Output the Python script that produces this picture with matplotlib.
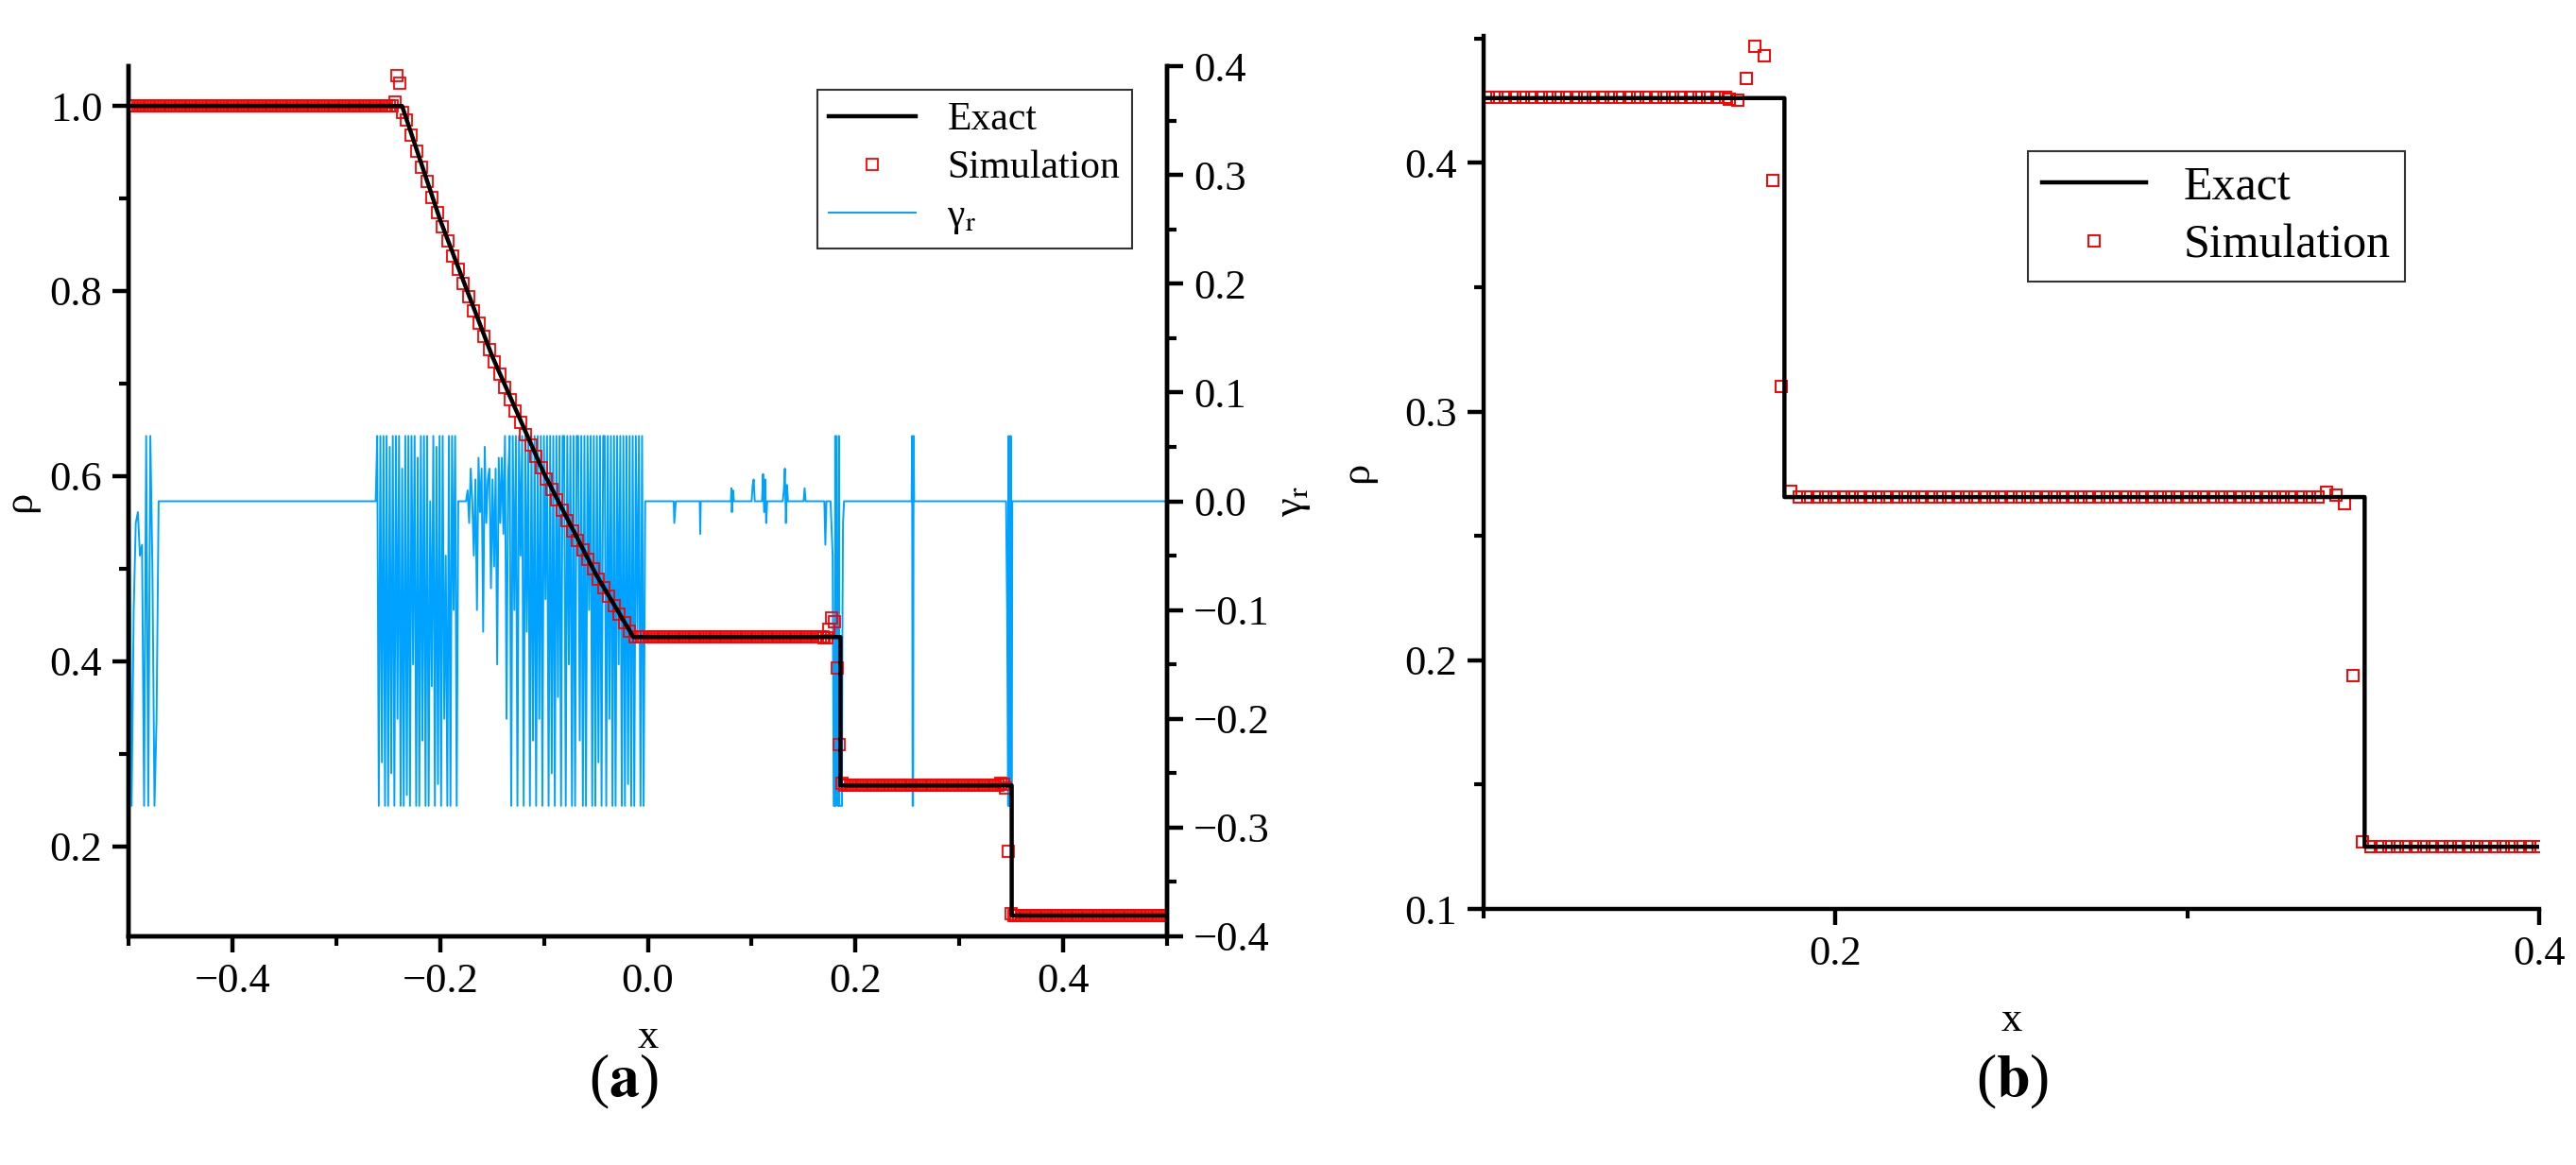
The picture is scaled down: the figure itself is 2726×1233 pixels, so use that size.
import numpy as np
import matplotlib
matplotlib.use("Agg")
import matplotlib.pyplot as plt
from matplotlib.ticker import AutoMinorLocator

plt.rcParams['font.family'] = ['Liberation Serif', 'DejaVu Serif']
plt.rcParams['mathtext.fontset'] = 'stix'

# ---------------- data ----------------
# exact Sod solution (key points)
exact_x = [-0.5, -0.2366, -0.2, -0.15, -0.1, -0.05, -0.0139, 0.1855, 0.1855, 0.3504, 0.3504, 0.5]
exact_rho = [1.0, 1.0, 0.877, 0.730, 0.603, 0.494, 0.426, 0.426, 0.2656, 0.2656, 0.125, 0.125]

# simulation
plat1_rho = 1.0
head_x = [-0.2438, -0.2413, -0.2388, -0.2363]
head_rho = [1.004, 1.033, 1.025, 0.993]
rare_rho = [0.985, 0.968, 0.951, 0.934, 0.918, 0.901, 0.885, 0.8695, 0.854, 0.838,
            0.823, 0.808, 0.794, 0.779, 0.765, 0.751, 0.737, 0.723, 0.710, 0.696,
            0.683, 0.670, 0.658, 0.645, 0.633, 0.621, 0.609, 0.597, 0.586, 0.574,
            0.563, 0.552, 0.541, 0.530, 0.520, 0.510, 0.4995, 0.489, 0.4795, 0.470,
            0.460, 0.451, 0.442, 0.4326, 0.426]
plat2_rho = 0.4262
contact_x = [0.1697, 0.1722, 0.1747, 0.1772, 0.1797, 0.1822, 0.1847, 0.1872]
contact_rho = [0.4255, 0.4250, 0.434, 0.447, 0.443, 0.393, 0.310, 0.268]
plat3_rho = 0.2656
shock_x = [0.3397, 0.3422, 0.3447, 0.3472, 0.3497]
shock_rho = [0.2675, 0.2665, 0.2630, 0.194, 0.127]
plat4_rho = 0.125

# gamma_r indicator
gA_x0, gA_dx = -0.499, 0.002
gA = [0.0, -0.28, -0.1, -0.02, -0.01, -0.05, -0.04, -0.28, 0.06, -0.28, 0.06, -0.06,
      -0.28, -0.2, 0.0, 0.0]
gB_x0, gB_dx = -0.262, 0.0015
gB = [0.0, 0.06, -0.28, 0.06, -0.24, 0.06, -0.28, 0.06, -0.28, 0.05, -0.25, 0.06, -0.28,
      0.06, -0.2, 0.06, -0.28, 0.03, -0.28, 0.06, -0.27, 0.06, -0.28, 0.06, -0.15, 0.06,
      -0.28, 0.04, -0.28, 0.06, -0.22, 0.06, -0.28, 0.06, -0.28, 0.0, -0.17, 0.06, -0.28,
      0.05, -0.26, 0.06, -0.28, 0.06, -0.2, -0.05, -0.28, 0.06, -0.28, 0.06, -0.1, 0.06,
      -0.28, 0.0, 0.0]
gC_x0, gC_dx = -0.175, 0.0015
gC = [0.0, 0.01, -0.02, 0.03, 0.0, -0.05, 0.02, -0.1, 0.04, -0.01, 0.03, -0.12, 0.05,
      -0.02, 0.02, 0.03, -0.08, 0.02, -0.06, 0.03, -0.15, 0.04, -0.02, 0.04, -0.03, 0.06,
      -0.2, 0.02, 0.06, -0.28, 0.06, -0.1, 0.06, -0.28, 0.06, -0.05, 0.06, -0.28, 0.06,
      -0.12, 0.06, -0.28, 0.06, -0.22, 0.06, -0.28, 0.06, -0.2, 0.06, -0.28, 0.06, -0.09,
      0.06, -0.28, 0.06, -0.25, 0.06, -0.28, 0.06, -0.18, 0.06, -0.28, 0.06, 0.06, -0.28,
      0.06, -0.15, 0.06, -0.28, 0.06, -0.28, 0.06, 0.06, -0.22, 0.06, -0.28, 0.06, -0.28,
      0.06, -0.1, 0.06, -0.28, 0.06, -0.28, 0.06, -0.24, 0.06, -0.28, 0.06, 0.06, -0.28,
      0.06, -0.2, 0.06, -0.28, 0.06, -0.28, 0.06, -0.15, 0.06, -0.28, 0.06, -0.28, 0.06,
      -0.26, 0.06, -0.28, 0.06, -0.28, 0.06, -0.12, 0.06, -0.28, 0.06, -0.28, 0.0, 0.0]
gD_x = [0.02, 0.025, 0.0255, 0.027, 0.05, 0.0505, 0.051, 0.08, 0.0805, 0.081, 0.082, 0.083,
        0.1, 0.101, 0.102, 0.103, 0.11, 0.111, 0.112, 0.113, 0.114, 0.115, 0.13, 0.131, 0.132,
        0.133, 0.134, 0.135, 0.15, 0.151, 0.152, 0.17, 0.171, 0.172]
gD = [0.0, 0.0, -0.02, 0.0, 0.0, -0.03, 0.0, 0.0, 0.012, -0.01, 0.01, 0.0,
      0.0, 0.015, 0.02, 0.0, 0.0, 0.025, -0.01, 0.02, -0.02, 0.0, 0.0, 0.01, 0.03,
      -0.02, 0.015, 0.0, 0.0, 0.012, 0.0, 0.0, -0.04, 0.0]
gE_x = [0.176, 0.178, 0.179, 0.180, 0.1805, 0.181, 0.1815, 0.183, 0.1835, 0.184, 0.1845,
        0.186, 0.187, 0.1875, 0.188, 0.189, 0.19, 0.2540, 0.2545, 0.2550, 0.2555, 0.2560,
        0.2565, 0.345, 0.346, 0.347, 0.3475, 0.348, 0.3485, 0.349, 0.3495, 0.350, 0.3505,
        0.351, 0.352, 0.353, 0.5]
gE = [0.0, -0.05, -0.28, -0.28, 0.06, -0.28, 0.06, -0.28, -0.28, 0.06, -0.28, -0.28,
      -0.28, -0.1, -0.02, 0.0, 0.0, 0.0, 0.06, -0.28, -0.28, 0.06, 0.0, 0.0, -0.1,
      -0.28, 0.06, -0.28, -0.28, -0.28, 0.06, -0.28, -0.28, 0.0, 0.0, 0.0, 0.0]

# ---------------- assemble ----------------
seg1 = np.arange(-0.49875, -0.2450, 0.0025)
seg2 = np.arange(-0.2325, -0.0100, 0.005)
seg3 = np.arange(-0.00875, 0.1690, 0.0025)
seg4 = np.arange(0.18975, 0.3390, 0.0025)
seg5 = np.arange(0.35225, 0.5, 0.0025)
sim_x = np.concatenate([seg1, head_x, seg2, seg3, contact_x, seg4, shock_x, seg5])
sim_rho = np.concatenate([[plat1_rho] * len(seg1), head_rho, rare_rho, [plat2_rho] * len(seg3),
                          contact_rho, [plat3_rho] * len(seg4), shock_rho,
                          [plat4_rho] * len(seg5)])

g_x = np.concatenate([gA_x0 + gA_dx * np.arange(len(gA)), [-0.3],
                      gB_x0 + gB_dx * np.arange(len(gB)),
                      gC_x0 + gC_dx * np.arange(len(gC)), gD_x, gE_x])
g_y = np.concatenate([gA, [0.0], gB, gC, gD, gE])

# ---------------- figure ----------------
W, H = 2726, 1233
fig = plt.figure(figsize=(W / 100, H / 100), dpi=100)
FS = 32
blue = '#00A2FF'

def style(ax):
    for s in ax.spines.values():
        s.set_linewidth(3.2)
    ax.tick_params(which='major', direction='out', length=12, width=3.2, labelsize=FS, pad=8)
    ax.tick_params(which='minor', direction='out', length=7, width=3.0)

axL = fig.add_axes([136 / W, 1 - 991 / H, (1235 - 136) / W, (991 - 70) / H])
axL.plot(exact_x, exact_rho, color='black', lw=3.2, label='Exact', zorder=3)
axL.plot(sim_x, sim_rho, ls='none', marker='s', mfc='none', mec='red', ms=8, mew=1.3,
         label='Simulation', zorder=2)
axL.set_xlim(-0.5, 0.5)
axL.set_ylim(0.1025, 1.043)
axL.set_xticks([-0.4, -0.2, 0.0, 0.2, 0.4])
axL.set_xticklabels(['\u22120.4', '\u22120.2', '0.0', '0.2', '0.4'])
axL.set_yticks([0.2, 0.4, 0.6, 0.8, 1.0])
axL.xaxis.set_minor_locator(AutoMinorLocator(2))
axL.yaxis.set_minor_locator(AutoMinorLocator(2))
axL.spines['top'].set_visible(False)
axL.set_xlabel('x', fontsize=FS, labelpad=14)
axL.set_ylabel('ρ', fontsize=FS, labelpad=8)
style(axL)

axR = axL.twinx()
axR.plot(g_x, g_y, color=blue, lw=1.4, label='γ$_\\mathrm{r}$', zorder=1)
axR.set_ylim(-0.4, 0.4)
axR.set_yticks([-0.4, -0.3, -0.2, -0.1, 0.0, 0.1, 0.2, 0.3, 0.4])
axR.set_yticklabels(['\u22120.4', '\u22120.3', '\u22120.2', '\u22120.1', '0.0', '0.1', '0.2', '0.3', '0.4'])
axR.yaxis.set_minor_locator(AutoMinorLocator(2))
axR.spines['top'].set_visible(False)
axR.set_ylabel('γ$_\\mathrm{r}$', fontsize=FS, labelpad=4)
style(axR)
axL.set_zorder(axR.get_zorder() + 1)
axL.patch.set_visible(False)

h1, l1 = axL.get_legend_handles_labels()
h2, l2 = axR.get_legend_handles_labels()
leg = axL.legend(h1 + h2, l1 + l2, loc='upper right', bbox_to_anchor=(0.985, 0.995),
                 fontsize=FS - 2, frameon=True, fancybox=False, edgecolor='black',
                 borderpad=0.3, handlelength=2.2, labelspacing=0.3)
leg.get_frame().set_linewidth(1.5)

# right panel
axB = fig.add_axes([1570 / W, 1 - 962 / H, (2687 - 1570) / W, (962 - 38) / H])
axB.plot(exact_x, exact_rho, color='black', lw=3.2, label='Exact', zorder=3)
axB.plot(sim_x, sim_rho, ls='none', marker='s', mfc='none', mec='red', ms=9, mew=1.4,
         label='Simulation', zorder=2)
axB.set_xlim(0.1, 0.4)
axB.set_ylim(0.1, 0.451)
axB.set_xticks([0.2, 0.4])
axB.set_yticks([0.1, 0.2, 0.3, 0.4])
axB.xaxis.set_minor_locator(AutoMinorLocator(2))
axB.yaxis.set_minor_locator(AutoMinorLocator(2))
axB.spines['top'].set_visible(False)
axB.spines['right'].set_visible(False)
axB.set_xlabel('x', fontsize=FS, labelpad=22)
axB.set_ylabel('ρ', fontsize=FS, labelpad=22)
style(axB)
legB = axB.legend(loc='upper right', bbox_to_anchor=(0.895, 0.895), fontsize=FS + 4,
                  frameon=True, fancybox=False, edgecolor='black', borderpad=0.3,
                  handlelength=2.2, labelspacing=0.3)
legB.get_frame().set_linewidth(1.5)

fig.text(660 / W, 1 - 1145 / H, '($\\mathbf{a}$)', fontsize=46, ha='center', va='center')
fig.text(2130 / W, 1 - 1145 / H, '($\\mathbf{b}$)', fontsize=46, ha='center', va='center')

fig.savefig('out.png', dpi=100)
